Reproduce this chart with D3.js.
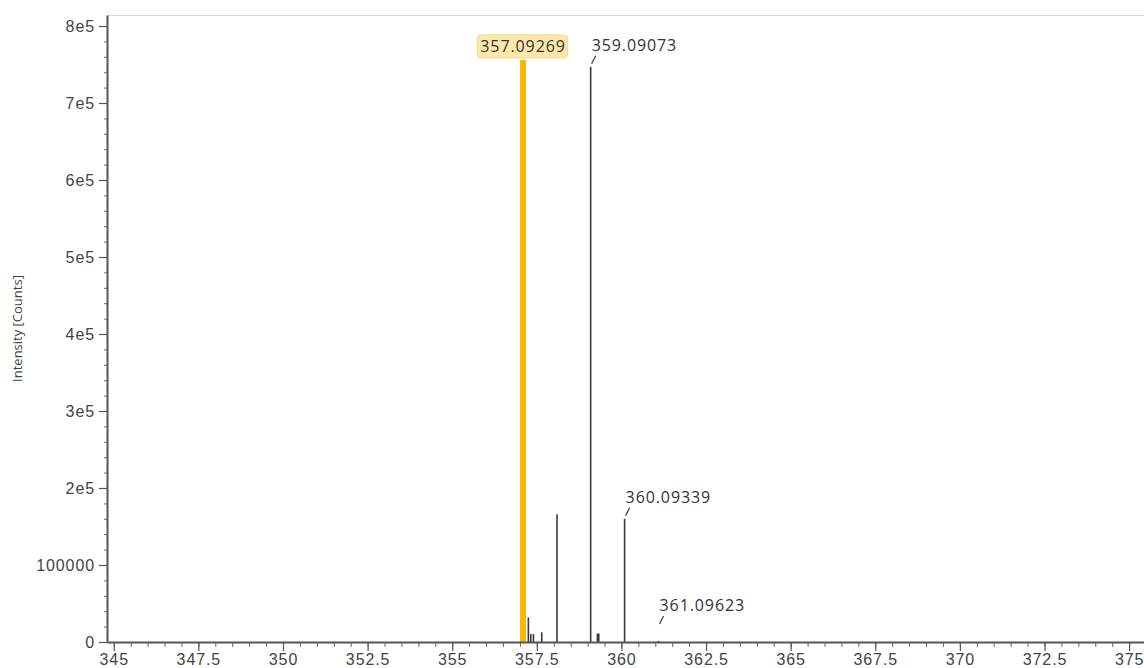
<!DOCTYPE html>
<html>
<head>
<meta charset="utf-8">
<script src="https://cdn.jsdelivr.net/npm/d3@7"></script>
<style>
  html, body { margin: 0; padding: 0; background: #fff; }
  svg { display: block; font-family: "Open Sans", sans-serif; }
  .axis text { font-size: 16px; fill: #444; letter-spacing: 0.9px; }
  .axis .domain { stroke: #555; stroke-width: 2; }
  .axis .tick line { stroke: #555; stroke-width: 1.2; }
  .minor .domain { display: none; }
  .minor .tick line { stroke: #666; stroke-width: 1; }
  .peak-label { font-size: 16px; fill: #333; letter-spacing: 0.9px; }
</style>
</head>
<body>
<svg id="chart" width="1144" height="668"></svg>
<script>
// peak list (m/z, intensity in counts)
const mzValues    = [357.09269, 357.25, 357.32, 357.40, 357.645, 358.096, 359.09073, 359.29, 359.33, 360.09339, 361.09623];
const intensities = [756000,    32000,  10400,  10400,  12600,   166000,  747000,    11000,  11000,  160000,    1500];
const highlightMz = 357.09269;
const labelledMz  = [357.09269, 359.09073, 360.09339, 361.09623];
const labelTexts  = ["357.09269", "359.09073", "360.09339", "361.09623"];

const xTickValues = [345, 347.5, 350, 352.5, 355, 357.5, 360, 362.5, 365, 367.5, 370, 372.5, 375];
const xTickLabels = ["345", "347.5", "350", "352.5", "355", "357.5", "360", "362.5", "365", "367.5", "370", "372.5", "375"];
const yTickValues = [0, 100000, 200000, 300000, 400000, 500000, 600000, 700000, 800000];
const yTickLabels = ["0", "100000", "2e5", "3e5", "4e5", "5e5", "6e5", "7e5", "8e5"];

const svg = d3.select('#chart');
const plotLeft = 107, plotRight = 1144, plotTop = 15, plotBottom = 642;

const x = d3.scaleLinear().domain([344.80, 375.44]).range([plotLeft, plotRight]);
const y = d3.scaleLinear().domain([0, 814300]).range([plotBottom, plotTop]);

// top frame line
svg.append('line')
    .attr('x1', plotLeft).attr('x2', plotRight)
    .attr('y1', plotTop + 0.5).attr('y2', plotTop + 0.5)
    .attr('stroke', '#d4d4d4').attr('stroke-width', 1);

// peaks
const peaks = mzValues.map((m, i) => ({mz: m, value: intensities[i]}));
svg.append('g').selectAll('line')
    .data(peaks.filter(d => d.mz !== highlightMz))
    .enter().append('line')
    .attr('x1', d => x(d.mz)).attr('x2', d => x(d.mz))
    .attr('y1', y(0)).attr('y2', d => y(d.value))
    .attr('stroke', '#3a3a3a')
    .attr('stroke-width', 1.6);

const hl = peaks.find(d => d.mz === highlightMz);
svg.append('rect')
    .attr('x', x(hl.mz) - 3)
    .attr('y', y(hl.value))
    .attr('width', 6)
    .attr('height', y(0) - y(hl.value))
    .attr('fill', '#f6b800');

// minor ticks
svg.append('g')
    .attr('class', 'minor')
    .attr('transform', `translate(0,${plotBottom})`)
    .call(d3.axisBottom(x).tickValues(d3.range(345, 375.5, 0.5)).tickSize(5).tickFormat(''));
svg.append('g')
    .attr('class', 'minor')
    .attr('transform', `translate(${plotLeft},0)`)
    .call(d3.axisLeft(y).tickValues(d3.range(0, 810000, 20000)).tickSize(3).tickFormat(''));

// axes
svg.append('g')
    .attr('class', 'axis')
    .attr('transform', `translate(0,${plotBottom})`)
    .call(d3.axisBottom(x)
        .tickValues(xTickValues)
        .tickFormat((d, i) => xTickLabels[i])
        .tickSize(9).tickSizeOuter(0).tickPadding(3));

svg.append('g')
    .attr('class', 'axis')
    .attr('transform', `translate(${plotLeft},0)`)
    .call(d3.axisLeft(y)
        .tickValues(yTickValues)
        .tickFormat((d, i) => yTickLabels[i])
        .tickSize(8).tickSizeOuter(0).tickPadding(4));

// y axis title
svg.append('text')
    .attr('transform', `translate(19,${(plotTop + plotBottom) / 2}) rotate(-90)`)
    .attr('text-anchor', 'middle')
    .attr('dominant-baseline', 'middle')
    .style('font-size', '13px')
    .style('fill', '#444')
    .text('Intensity [Counts]');

// peak labels
labelledMz.forEach((m, i) => {
    const p = peaks.find(d => d.mz === m);
    const px = x(p.mz);
    if (m === highlightMz) {
        const g = svg.append('g');
        const t = g.append('text')
            .attr('class', 'peak-label')
            .attr('x', px)
            .attr('y', y(p.value) - 8)
            .attr('text-anchor', 'middle')
            .text(labelTexts[i]);
        const bb = t.node().getBBox();
        g.insert('rect', 'text')
            .attr('x', bb.x - 3)
            .attr('y', y(p.value) - 25)
            .attr('width', bb.width + 5)
            .attr('height', 23)
            .attr('rx', 4)
            .attr('fill', '#fde8ab')
            .attr('stroke', '#f7d67a')
            .attr('stroke-width', 1);
    } else {
        const topY = Math.min(y(p.value), y(0) - 15);
        svg.append('line')
            .attr('x1', px + 1).attr('y1', topY - 3)
            .attr('x2', px + 5).attr('y2', topY - 11)
            .attr('stroke', '#444').attr('stroke-width', 1.3);
        svg.append('text')
            .attr('class', 'peak-label')
            .attr('x', px + 1)
            .attr('y', topY - 16)
            .text(labelTexts[i]);
    }
});
</script>
</body>
</html>
